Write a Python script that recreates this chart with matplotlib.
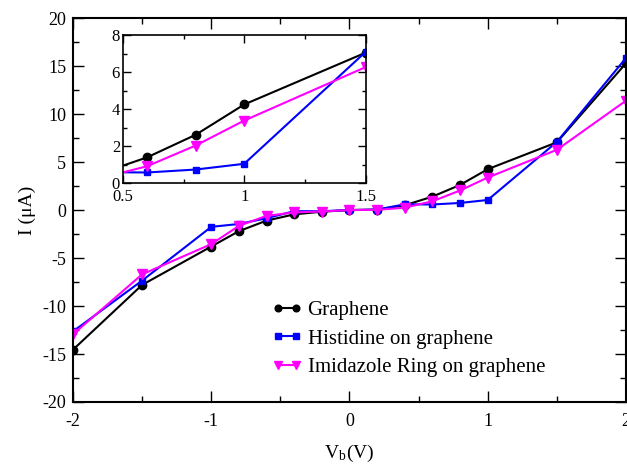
import matplotlib
matplotlib.use("Agg")
import matplotlib.pyplot as plt
from matplotlib.ticker import MultipleLocator, FuncFormatter

V = [-2, -1.5, -1, -0.8, -0.6, -0.4, -0.2, 0, 0.2, 0.4, 0.6, 0.8, 1, 1.5, 2]
graphene = [-14.55, -7.8, -3.8, -2.2, -1.1, -0.45, -0.17, 0, 0.05, 0.5, 1.4, 2.62, 4.26, 7.06, 15.3]
histidine = [-12.65, -7.35, -1.75, -1.45, -0.85, -0.12, -0.12, 0, 0.05, 0.6, 0.58, 0.74, 1.05, 7.1, 15.85]
imidazole = [-12.95, -6.7, -3.55, -1.65, -0.6, -0.25, -0.15, 0, 0.02, 0.25, 0.92, 2.04, 3.39, 6.28, 11.4]
labels = ["Graphene", "Histidine on graphene", "Imidazole Ring on graphene"]

plt.rcParams['font.family'] = ['Liberation Serif', 'DejaVu Serif']
plt.rcParams['mathtext.fontset'] = 'stix'
plt.rcParams['axes.unicode_minus'] = False

fig = plt.figure(figsize=(6.27, 4.65), dpi=100)
ax = fig.add_axes([0.1164, 0.1355, 0.882, 0.8255])

styles = [dict(color='black', marker='o', ms=6),
          dict(color='#0000ff', marker='s', ms=5),
          dict(color='#ff00ff', marker='v', ms=7)]
series = [graphene, histidine, imidazole]

for y, st, lab in zip(series, styles, labels):
    ax.plot(V, y, lw=1.5, label=lab, **st)

fmt = FuncFormatter(lambda v, p: f"{v:g}")
ax.set_xlim(-2, 2)
ax.set_ylim(-20, 20)
ax.xaxis.set_major_locator(MultipleLocator(1))
ax.xaxis.set_minor_locator(MultipleLocator(0.5))
ax.yaxis.set_major_locator(MultipleLocator(5))
ax.yaxis.set_minor_locator(MultipleLocator(2.5))
ax.xaxis.set_major_formatter(fmt)
ax.yaxis.set_major_formatter(fmt)
ax.tick_params(which='both', direction='in', top=True, right=True, labelsize=13, width=1)
ax.tick_params(which='major', length=8)
ax.tick_params(axis='x', which='major', pad=8)
ax.tick_params(axis='y', which='major', pad=5)
ax.tick_params(which='minor', length=4)
for s in ax.spines.values():
    s.set_linewidth(1.5)
ax.set_xlabel("V$_\\mathregular{b}$(V)", fontsize=14, labelpad=9)
ax.set_ylabel("I (\u03bcA)", fontsize=14, labelpad=4)

leg = ax.legend(loc='upper left', bbox_to_anchor=(0.434, 0.353), bbox_transform=fig.transFigure,
                frameon=False, fontsize=15, numpoints=2, handlelength=1.45, markerscale=0.8,
                handletextpad=0.25, labelspacing=0.42, borderaxespad=0, borderpad=0)

ins = fig.add_axes([0.196, 0.606, 0.387, 0.318])
for y, st in zip(series, styles):
    ins.plot(V, y, lw=1.5, **st)
ins.set_xlim(0.5, 1.5)
ins.set_ylim(0, 8)
ins.xaxis.set_major_locator(MultipleLocator(0.5))
ins.xaxis.set_minor_locator(MultipleLocator(0.25))
ins.yaxis.set_major_locator(MultipleLocator(2))
ins.yaxis.set_minor_locator(MultipleLocator(1))
ins.xaxis.set_major_formatter(fmt)
ins.yaxis.set_major_formatter(fmt)
ins.tick_params(which='both', direction='in', top=True, right=True, labelsize=12, width=1)
ins.tick_params(axis='x', which='major', pad=4)
ins.tick_params(axis='y', which='major', pad=2)
ins.tick_params(which='major', length=6)
ins.tick_params(which='minor', length=3)
for s in ins.spines.values():
    s.set_linewidth(1.2)

fig.savefig("out.png", dpi=100)
